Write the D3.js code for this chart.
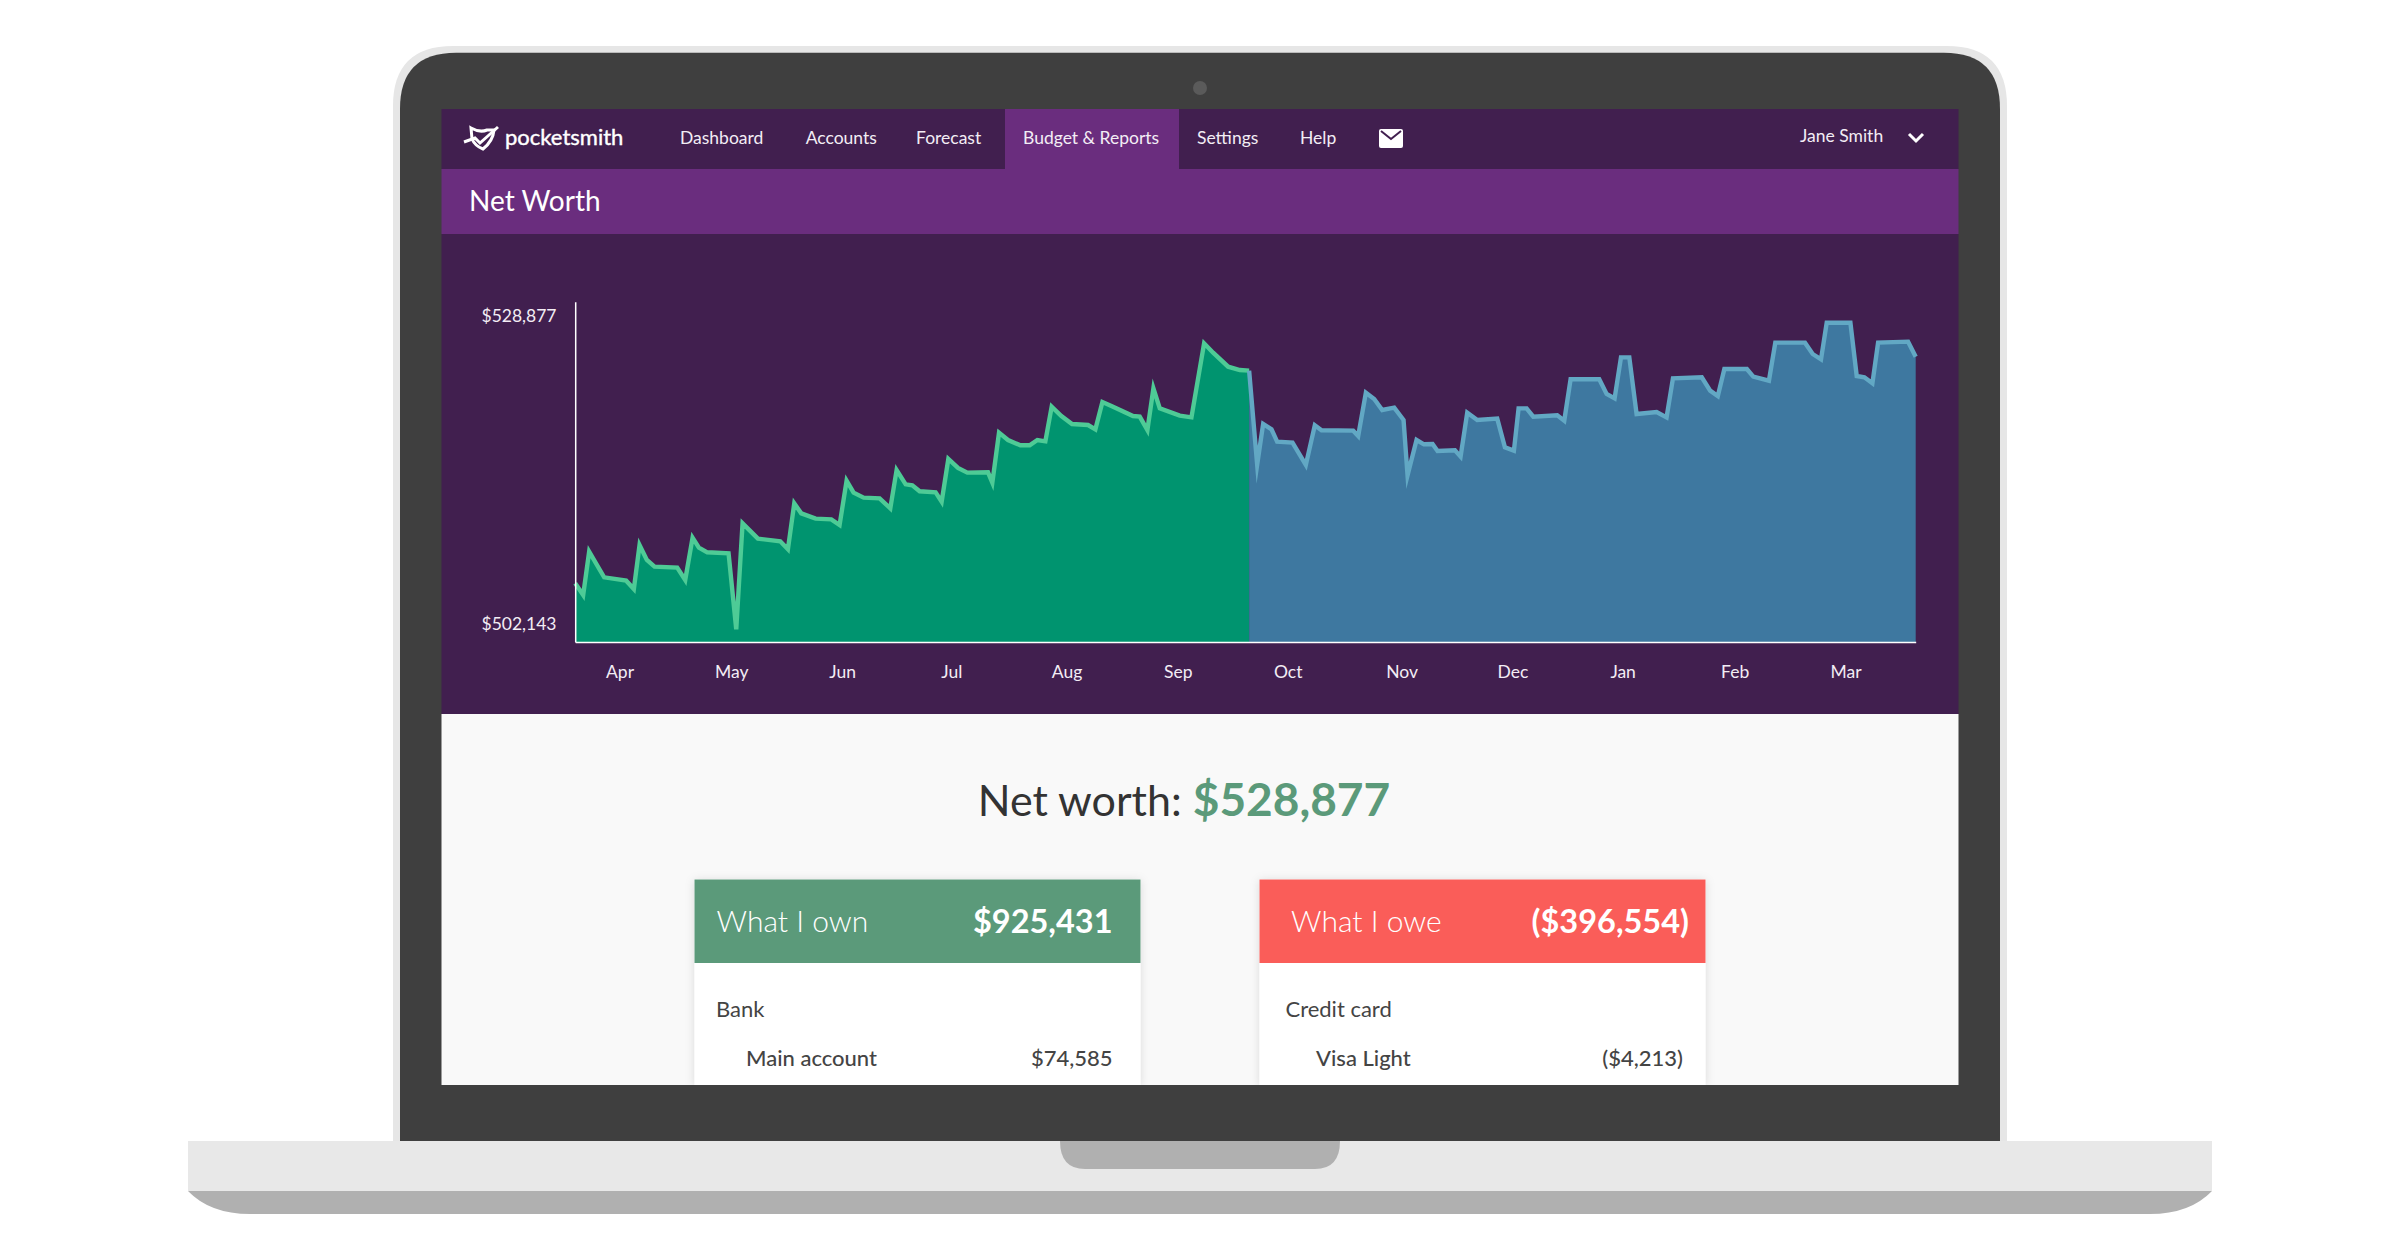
<!DOCTYPE html>
<html>
<head>
<meta charset="utf-8">
<title>Net Worth</title>
<script src="https://d3js.org/d3.v7.min.js"></script>
<style>
    html, body { margin: 0; padding: 0; background: #fff; }
    svg { display: block; }
    text { font-family: Lato, "Open Sans", sans-serif; }
</style>
</head>
<body>
<svg id="vis" width="2400" height="1260"></svg>
<script>
/**
 * Data
 */
const MONTHS = ["Apr", "May", "Jun", "Jul", "Aug", "Sep", "Oct", "Nov", "Dec", "Jan", "Feb", "Mar"];
const MONTH_DAYS = [12.07, 42.5, 72.7, 102.4, 133.8, 164.1, 194, 225, 255.2, 285.2, 315.7, 345.9];
const Y_LABELS = [502143, 528877];

// actual part of the year (day of the year, net worth)
const PAST_DAYS = [0, 2.17, 3.8, 7.89, 13.88, 15.97, 17.52, 19.51, 21.6, 27.78, 29.96, 31.96, 33.68, 35.95, 41.76,
    43.85, 45.57, 49.75, 55.83, 57.92, 59.65, 61.55, 65.46, 69.73, 71.99, 73.9, 75.8, 78.53, 82.89, 85.8,
    87.52, 89.98, 91.79, 93.79, 98.14, 99.78, 101.6, 104.23, 106.77, 112.4, 113.58, 115.4, 117.85, 121.21, 123.75,
    125.84, 128.02, 129.74, 132.38, 135.28, 139.64, 141.64, 143.55, 146, 151.9, 153.72, 155.8, 157.44, 159.17, 164.62,
    167.8, 171.24, 173.7, 177.78, 180.96, 183.5];
const PAST_WORTH = [506154, 505136, 508914, 506677, 506386, 505660, 509495, 508188, 507607, 507519, 506444, 510135, 509263, 508856, 508769,
    502143, 511384, 510048, 509815, 509118, 513128, 512256, 511791, 511733, 511239, 515104, 514058, 513622, 513564, 512692,
    516034, 514785, 514697, 514174, 514087, 513273, 516993, 516209, 515802, 515831, 514930, 519289, 518650, 518185, 518185,
    518650, 518533, 521556, 520742, 520044, 519957, 519580, 521962, 521614, 520742, 520684, 519521, 523154, 521410, 520771,
    520626, 527077, 526263, 525043, 524752, 524694];

// forecast part of the year
const FORECAST_DAYS = [183.5, 185.69, 187.32, 189.59, 191.13, 195.31, 198.94, 201.39, 203.21, 211.84, 213.2, 215.29, 217.56, 219.74, 223.01,
    225.55, 226.64, 229.09, 231.09, 233.45, 234.81, 239.54, 241.08, 242.89, 245.62, 251.06, 253.15, 255.6, 256.87, 259.05,
    260.87, 267.4, 269.31, 271.03, 278.84, 280.84, 283.02, 284.75, 287.02, 289, 294.45, 297.17, 298.9, 306.75, 309.03,
    311.12, 312.9, 319.03, 320.77, 325.04, 326.77, 334.86, 336.95, 339.22, 340.77, 347.22, 348.94, 351.03, 353.21, 354.76,
    362.93, 365];
const FORECAST_WORTH = [524694, 516499, 520045, 519580, 518504, 518417, 516470, 519928, 519493, 519463, 518999, 522776, 522224, 521265, 521469,
    520393, 515569, 518650, 518272, 518301, 517691, 517749, 517197, 521033, 520393, 520510, 518010, 517720, 521410, 521410,
    520684, 520800, 520335, 523939, 523939, 522660, 522282, 525857, 525857, 520916, 521091, 520626, 524026, 524113, 522951,
    522486, 524840, 524840, 524171, 523822, 527135, 527135, 526147, 525682, 528877, 528877, 524229, 524113, 523590, 527135,
    527222, 525915];

const NAV_LABELS = ["Dashboard", "Accounts", "Forecast", "Budget & Reports", "Settings", "Help"];
const NET_WORTH = "$528,877";
const OWN_TOTAL = "$925,431";
const OWE_TOTAL = "($396,554)";
const OWN_ROW = ["Bank", "Main account", "$74,585"];
const OWE_ROW = ["Credit card", "Visa Light", "($4,213)"];

/**
 * Layout and colours
 */
const PLOT = {left: 575.2, right: 1915.7, top: 301.7, bottom: 642};
const NAV_X = [680, 805.7, 916, 1023, 1197, 1300];
const Y_DOMAIN = [501036, 530707];
const COLOURS = {
    navy: "#411f4f", header: "#6a2d7e", bezel: "#3f3f3f", edge: "#e6e6e6",
    base: "#e8e8e8", baseDark: "#b0b0b0", page: "#f9f9f9", text: "#333333", row: "#444444",
    green: "#5b9a7a", red: "#fa5d59",
    pastFill: "#00946f", pastLine: "#4ecb96", forecastFill: "#3e78a0", forecastLine: "#62a8c4"
};

var svg = d3.select("#vis");

drawLaptop();
drawNav();
drawChart();
drawSummary();
drawBezelBottom();

function topRounded(x0, x1, y0, y1, r) {
    return `M${x0},${y1}V${y0 + r}Q${x0},${y0} ${x0 + r},${y0}H${x1 - r}Q${x1},${y0} ${x1},${y0 + r}V${y1}Z`;
}

function drawLaptop() {
    svg.append("path").attr("d", topRounded(393, 2007, 46, 1141, 60)).attr("fill", COLOURS.edge);
    svg.append("path").attr("d", topRounded(400, 2000, 52.7, 1141, 56)).attr("fill", COLOURS.bezel);
    svg.append("circle").attr("cx", 1200).attr("cy", 88).attr("r", 7).attr("fill", "#5a5a5a");

    svg.append("rect").attr("x", 441.5).attr("y", 109).attr("width", 1517).attr("height", 60).attr("fill", COLOURS.navy);
    svg.append("rect").attr("x", 441.5).attr("y", 169).attr("width", 1517).attr("height", 65).attr("fill", COLOURS.header);
    svg.append("rect").attr("x", 441.5).attr("y", 234).attr("width", 1517).attr("height", 480).attr("fill", COLOURS.navy);
    svg.append("rect").attr("x", 441.5).attr("y", 714).attr("width", 1517).attr("height", 371).attr("fill", COLOURS.page);
}

function drawNav() {
    svg.append("rect").attr("x", 1005).attr("y", 109).attr("width", 174).attr("height", 60).attr("fill", COLOURS.header);

    // pocketsmith logo
    var logo = svg.append("g").attr("fill", "none").attr("stroke", "#fff").attr("stroke-width", 3);
    logo.append("path").attr("d", "M471,128 Q480,133 487,130 L494,130 Q493,141 483,149 Q475,146 472,139 Z");
    logo.append("path").attr("d", "M464,142 L475,138 L480,143 L498,127");
    svg.append("text").attr("x", 505).attr("y", 145).attr("font-size", 22)
        .attr("stroke", "#fff").attr("stroke-width", 0.4).attr("fill", "#fff").text("pocketsmith");

    svg.selectAll("text.nav").data(NAV_LABELS).enter().append("text")
        .attr("class", "nav")
        .attr("x", (d, i) => NAV_X[i])
        .attr("y", 143.5)
        .attr("font-size", 17.5)
        .attr("fill", "#f3edf5")
        .text(d => d);

    // envelope
    svg.append("rect").attr("x", 1379).attr("y", 129).attr("width", 24).attr("height", 19).attr("rx", 2).attr("fill", "#fff");
    svg.append("path").attr("d", "M1381,131 L1391,139 L1401,131").attr("fill", "none").attr("stroke", COLOURS.navy).attr("stroke-width", 2);

    svg.append("text").attr("x", 1800).attr("y", 142).attr("font-size", 17.5).attr("fill", "#f3edf5").text("Jane Smith");
    svg.append("path").attr("d", "M1909,134 L1916,141 L1923,134").attr("fill", "none").attr("stroke", "#fff").attr("stroke-width", 3);

    svg.append("text").attr("x", 469).attr("y", 210.5).attr("font-size", 28).attr("fill", "#fff").text("Net Worth");
}

function drawChart() {
    var x = d3.scaleLinear().domain([0, 365]).range([PLOT.left, PLOT.right]);
    var y = d3.scaleLinear().domain(Y_DOMAIN).range([PLOT.bottom, PLOT.top]);

    var area = d3.area().x(d => x(d[0])).y0(PLOT.bottom).y1(d => y(d[1]));
    var line = d3.line().x(d => x(d[0])).y(d => y(d[1]));

    var series = [
        {days: PAST_DAYS, worth: PAST_WORTH, fill: COLOURS.pastFill, stroke: COLOURS.pastLine},
        {days: FORECAST_DAYS, worth: FORECAST_WORTH, fill: COLOURS.forecastFill, stroke: COLOURS.forecastLine}
    ];

    series.forEach(function (s) {
        var points = d3.zip(s.days, s.worth);
        svg.append("path").attr("d", area(points)).attr("fill", s.fill);
        svg.append("path").attr("d", line(points)).attr("fill", "none")
            .attr("stroke", s.stroke).attr("stroke-width", 4.4).attr("stroke-miterlimit", 11);
    });

    var yAxis = svg.append("g").attr("transform", `translate(${PLOT.left},0)`)
        .call(d3.axisLeft(y).tickValues(Y_LABELS).tickSize(0).tickFormat(d => "$" + d3.format(",")(d)));
    yAxis.select(".domain").attr("stroke", "#fff").attr("stroke-width", 1.5);
    yAxis.selectAll("text")
        .attr("x", 519 - PLOT.left)
        .attr("dy", "0.35em")
        .attr("text-anchor", "middle")
        .attr("font-size", 17.5)
        .attr("fill", "#f3edf5");
    yAxis.selectAll("text").attr("transform", (d, i) => i === 0 ? "translate(0,-6)" : "translate(0,-7.5)");

    var baseline = svg.append("g").attr("transform", `translate(0,${PLOT.bottom})`)
        .call(d3.axisBottom(x).tickValues([]).tickSizeOuter(0));
    baseline.select(".domain").attr("stroke", "#fff").attr("stroke-width", 1.5);

    var xAxis = svg.append("g").attr("transform", `translate(0,${PLOT.bottom})`)
        .call(d3.axisBottom(x).tickValues(MONTH_DAYS).tickSize(0).tickFormat((d, i) => MONTHS[i]));
    xAxis.select(".domain").remove();
    xAxis.selectAll("text")
        .attr("y", 30)
        .attr("dy", "0.35em")
        .attr("font-size", 17.5)
        .attr("fill", "#f3edf5");
}

function drawSummary() {
    var defs = svg.append("defs");
    var shadow = defs.append("filter").attr("id", "cardShadow")
        .attr("x", "-10%").attr("y", "-10%").attr("width", "120%").attr("height", "120%");
    shadow.append("feDropShadow").attr("dx", 0).attr("dy", 1).attr("stdDeviation", 5)
        .attr("flood-color", "#000").attr("flood-opacity", 0.13);

    var title = svg.append("text").attr("x", 1184).attr("y", 816).attr("text-anchor", "middle")
        .attr("font-size", 43).attr("fill", COLOURS.text);
    title.append("tspan").text("Net worth: ");
    title.append("tspan").attr("font-size", 46).attr("font-weight", 700).attr("fill", COLOURS.green).text(NET_WORTH);

    drawCard(694.5, COLOURS.green, "What I own", OWN_TOTAL, OWN_ROW, 716.5, 1112.5, 716, 746, 1112.5);
    drawCard(1259.5, COLOURS.red, "What I owe", OWE_TOTAL, OWE_ROW, 1291, 1689, 1285.5, 1316, 1683);
}

function drawCard(left, colour, label, total, row, labelX, totalX, groupX, rowX, valueX) {
    svg.append("rect").attr("x", left).attr("y", 879.5).attr("width", 446).attr("height", 206)
        .attr("fill", "#fff").attr("filter", "url(#cardShadow)");
    svg.append("rect").attr("x", left).attr("y", 879.5).attr("width", 446).attr("height", 83.5).attr("fill", colour);

    svg.append("text").attr("x", labelX).attr("y", 932).attr("font-size", 30).attr("font-weight", 300)
        .attr("fill", "#fff").text(label);
    svg.append("text").attr("x", totalX).attr("y", 933).attr("text-anchor", "end").attr("font-size", 32.5).attr("font-weight", 700)
        .attr("fill", "#fff").text(total);

    svg.append("text").attr("x", groupX).attr("y", 1017).attr("font-size", 22).attr("fill", COLOURS.row).text(row[0]);
    svg.append("text").attr("x", rowX).attr("y", 1066).attr("font-size", 22).attr("font-weight", 500).attr("fill", COLOURS.row).text(row[1]);
    svg.append("text").attr("x", valueX).attr("y", 1066).attr("text-anchor", "end").attr("font-size", 22).attr("font-weight", 500)
        .attr("fill", COLOURS.row).text(row[2]);
}

function drawBezelBottom() {
    svg.append("rect").attr("x", 400).attr("y", 1085).attr("width", 1600).attr("height", 56).attr("fill", COLOURS.bezel);
    svg.append("path").attr("d", "M188,1191 H2212 Q2190,1214 2150,1214 H250 Q210,1214 188,1191 Z").attr("fill", COLOURS.baseDark);
    svg.append("rect").attr("x", 188).attr("y", 1141).attr("width", 2024).attr("height", 50).attr("fill", COLOURS.base);
    svg.append("path").attr("d", "M1060,1141 H1340 Q1340,1169 1315,1169 H1085 Q1060,1169 1060,1141 Z").attr("fill", COLOURS.baseDark);
}
</script>
</body>
</html>
